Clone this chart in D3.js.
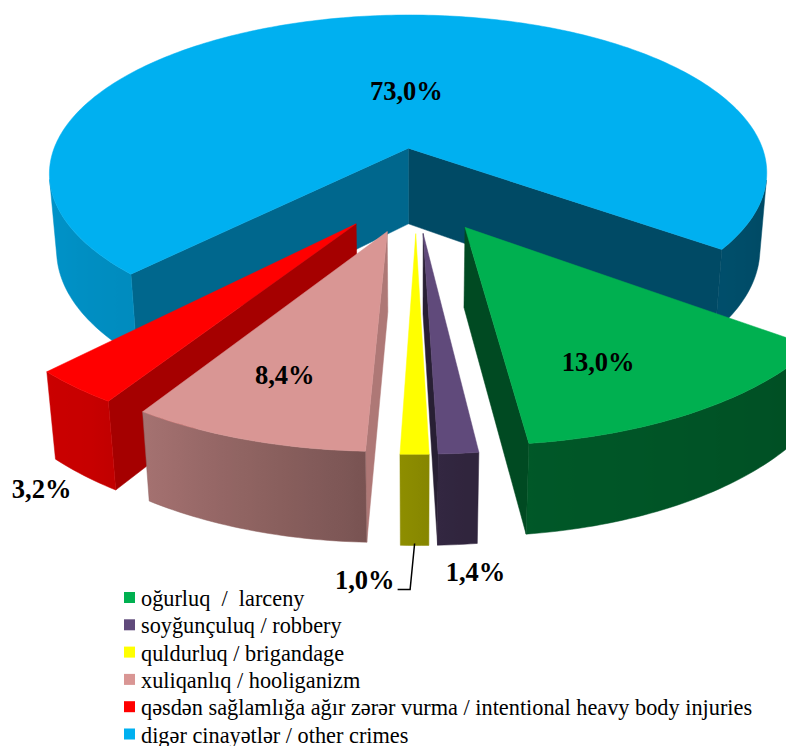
<!DOCTYPE html>
<html>
<head>
<meta charset="utf-8">
<script src="https://cdn.jsdelivr.net/npm/d3@7"></script>
<style>
  body { margin: 0; background: #fff; }
  svg { display: block; }
</style>
</head>
<body>
<div id="chart"></div>
<script>
// crime structure, in legend order
const categories = [
    "oğurluq  /  larceny",
    "soyğunçuluq / robbery",
    "quldurluq / brigandage",
    "xuliqanlıq / hooliganizm",
    "qəsdən sağlamlığa ağır zərər vurma / intentional heavy body injuries",
    "digər cinayətlər / other crimes"
];
const shares = [13.0, 1.4, 1.0, 8.4, 3.2, 73.0];
const shareLabels = ["13,0%", "1,4%", "1,0%", "8,4%", "3,2%", "73,0%"];
const colors = ["#00B050", "#604A7B", "#FFFF00", "#D99694", "#FF0000", "#00B0F0"];

const width = 786, height = 746;
const deg = Math.PI / 180;

// 3D view of a unit-radius pie, camera above and in front
const cx = 416, cy = 189, focal = 1989, dist = 5.39;
const tilt = 27 * deg, thick = 0.242, explode = 0.255;
const firstAngle = 126.5 * deg;
const sinT = Math.sin(tilt), cosT = Math.cos(tilt);
const camera = [0, dist * sinT, dist * cosT];

function project(p) {
    const yv = p[1] * cosT - p[2] * sinT;
    const zv = p[1] * sinT + p[2] * cosT;
    const w = dist - zv;
    return [cx + focal * p[0] / w, cy - focal * yv / w, w];
}

// shade factors for the walls, by direction the wall faces (degrees, clockwise from back)
const wallShade = d3.scaleLinear()
    .domain([90, 130, 175, 185, 215, 270])
    .range([0.40, 0.45, 0.50, 0.58, 0.78, 0.86])
    .clamp(true);
const cutShade = d3.scaleLinear().domain([90, 135]).range([0.81, 0.58]).clamp(true);
const backCutShade = 0.42;

function shade(color, k) {
    const c = d3.rgb(color);
    return d3.rgb(c.r * k, c.g * k, c.b * k).formatHex();
}
function norm360(a) { return ((a / deg) % 360 + 360) % 360; }
function facesCamera(normal, pts) {
    const c = [0, 1, 2].map(j => d3.mean(pts, p => p[j]));
    return normal[0] * (camera[0] - c[0]) + normal[1] * (camera[1] - c[1]) + normal[2] * (camera[2] - c[2]) > 0;
}

const pie = d3.pie().sort(null).value(d => d)
    .startAngle(firstAngle).endAngle(firstAngle + 2 * Math.PI);
const arcs = pie(shares);

const svg = d3.select("#chart").append("svg")
    .attr("width", width)
    .attr("height", height);
const defs = svg.append("defs");

const line = d3.line();
const walls = [], tops = [];

arcs.forEach((a, i) => {
    const mid = (a.startAngle + a.endAngle) / 2;
    const ox = explode * Math.sin(mid), oz = -explode * Math.cos(mid);
    const pt = (t, r, y) => [ox + r * Math.sin(t), y, oz - r * Math.cos(t)];
    a.pt = pt;
    a.mid = mid;

    const n = Math.max(2, Math.ceil((a.endAngle - a.startAngle) / deg));
    const ts = d3.range(n + 1).map(k => a.startAngle + (a.endAngle - a.startAngle) * k / n);

    tops.push({ pts: [pt(0, 0, 0)].concat(ts.map(t => pt(t, 1, 0))), fill: colors[i] });

    // outer curved wall: collect runs of strips that face the camera
    let run = null;
    const runs = [];
    for (let k = 0; k < n; k++) {
        const t0 = ts[k], t1 = ts[k + 1], tm = (t0 + t1) / 2;
        const quad = [pt(t0, 1, 0), pt(t1, 1, 0), pt(t1, 1, -thick), pt(t0, 1, -thick)];
        if (facesCamera([Math.sin(tm), 0, -Math.cos(tm)], quad)) {
            if (!run) { run = [t0]; runs.push(run); }
            run.push(t1);
        } else {
            run = null;
        }
    }
    runs.forEach((r, j) => {
        const topPts = r.map(t => project(pt(t, 1, 0)));
        const botPts = r.map(t => project(pt(t, 1, -thick)));
        const xs = topPts.map(p => p[0]);
        const x0 = d3.min(xs), x1 = d3.max(xs);
        const id = `wall-${i}-${j}`;
        const stops = r.map((t, k) => ({
            offset: x1 > x0 ? (xs[k] - x0) / (x1 - x0) : 0,
            color: shade(colors[i], wallShade(norm360(t)))
        })).sort((p, q) => p.offset - q.offset);
        defs.append("linearGradient")
            .attr("id", id)
            .attr("gradientUnits", "userSpaceOnUse")
            .attr("x1", x0).attr("x2", x1).attr("y1", 0).attr("y2", 0)
            .selectAll("stop")
            .data(stops)
            .join("stop")
            .attr("offset", d => d.offset)
            .attr("stop-color", d => d.color);
        const outline = topPts.concat(botPts.slice().reverse());
        walls.push({
            d: line(outline.map(p => [p[0], p[1]])) + "Z",
            depth: d3.mean(outline, p => p[2]),
            fill: `url(#${id})`,
            edge: stops[Math.floor(stops.length / 2)].color
        });
    });

    // cut faces
    const ns = a.startAngle - Math.PI / 2, ne = a.endAngle + Math.PI / 2;
    [[a.startAngle, ns, shade(colors[i], cutShade(norm360(ns)))],
     [a.endAngle, ne, shade(colors[i], backCutShade)]].forEach(([t, nt, fill]) => {
        const quad = [pt(0, 0, 0), pt(t, 1, 0), pt(t, 1, -thick), pt(0, 0, -thick)];
        if (!facesCamera([Math.sin(nt), 0, -Math.cos(nt)], quad)) return;
        const p2 = quad.map(project);
        walls.push({
            d: line(p2.map(p => [p[0], p[1]])) + "Z",
            depth: d3.mean(p2, p => p[2]),
            fill: fill,
            edge: fill
        });
    });
});

// paint far walls first
walls.sort((a, b) => b.depth - a.depth);

svg.append("g")
    .selectAll("path")
    .data(walls)
    .join("path")
    .attr("d", d => d.d)
    .attr("fill", d => d.fill)
    .attr("stroke", d => d.edge)
    .attr("stroke-width", 0.5)
    .attr("stroke-linejoin", "round");

svg.append("g")
    .selectAll("path")
    .data(tops)
    .join("path")
    .attr("d", d => line(d.pts.map(p => project(p).slice(0, 2))) + "Z")
    .attr("fill", d => d.fill)
    .attr("stroke", d => d.fill)
    .attr("stroke-width", 0.5);

// data labels (screen nudges from the computed anchor)
const labelFont = "'Liberation Serif', 'Times New Roman', serif";
const insideNudge = [[-30, 16], null, null, [-5, 8], null, [9, 10]];
const outsideNudge = [null, [18, 36], [-20, 43], null, [-42, 23], null];
const labels = svg.append("g")
    .attr("font-family", labelFont)
    .attr("font-weight", "bold")
    .attr("font-size", "26.5px")
    .attr("fill", "#000");

arcs.forEach((a, i) => {
    if (shares[i] >= 5) {
        const r = shares[i] > 50 ? 0.4 : 0.73;
        const p = project(a.pt(a.mid, r, 0));
        const [dx, dy] = insideNudge[i];
        labels.append("text")
            .attr("x", p[0] + dx).attr("y", p[1] + dy)
            .attr("text-anchor", "middle")
            .text(shareLabels[i]);
    } else {
        const p = project(a.pt(a.mid, 1, -thick));
        const [dx, dy] = outsideNudge[i];
        if (i === 2) {
            // leader line for the smallest slice
            svg.append("path")
                .attr("d", line([[p[0], p[1] - 2], [p[0] - 4.5, p[1] + 44], [p[0] - 17, p[1] + 44]]))
                .attr("fill", "none")
                .attr("stroke", "#000")
                .attr("stroke-width", 1.5);
            labels.append("text")
                .attr("x", p[0] + dx).attr("y", p[1] + dy)
                .attr("text-anchor", "end")
                .text(shareLabels[i]);
        } else {
            labels.append("text")
                .attr("x", p[0] + dx).attr("y", p[1] + dy)
                .attr("text-anchor", "middle")
                .text(shareLabels[i]);
        }
    }
});

// legend
const legend = svg.append("g")
    .attr("font-family", labelFont)
    .attr("font-size", "22.3px")
    .attr("fill", "#000");

const rows = legend.selectAll("g")
    .data(categories)
    .join("g")
    .attr("transform", (d, i) => `translate(124, ${606 + 27.3 * i})`);

rows.append("rect")
    .attr("x", 0).attr("y", -14)
    .attr("width", 11).attr("height", 11)
    .attr("fill", (d, i) => colors[i]);

rows.append("text")
    .attr("x", 17).attr("y", 0)
    .style("white-space", "pre")
    .text(d => d);
</script>
</body>
</html>
